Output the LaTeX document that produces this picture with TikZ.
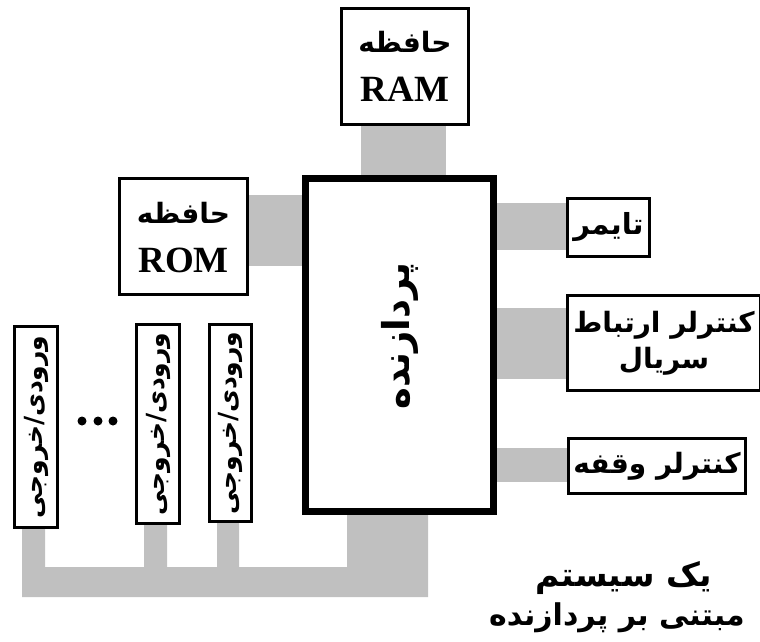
\documentclass[tikz,border=0pt]{standalone}
\usepackage{fontspec}
\setmainfont{Liberation Serif}
\newfontfamily\farsi[Script=Arabic]{DejaVu Sans}
\TeXXeTstate=1
\usetikzlibrary{backgrounds}
\newcommand{\fa}[1]{{\farsi\bfseries\beginR #1\endR}}
\definecolor{bandgray}{HTML}{C0C0C0}
\tikzset{
  box/.style={draw=black, line width=3pt, fill=white, inner sep=0pt, align=center},
  procbox/.style={draw=black, line width=7pt, fill=white, inner sep=0pt},
  band/.style={draw=bandgray, line cap=butt},
  txt/.style={inner sep=0pt, align=center},
}
\begin{document}
\begin{tikzpicture}[x=1pt, y=-1pt]
\useasboundingbox (0,0) rectangle (760,641);
% nodes
\node[box, minimum width=127pt, minimum height=116pt] (ram) at (405,66.5) {};
\node[txt, font=\fontsize{28}{30}\selectfont] (ramt1) at (405,42) {\fa{حافظه}};
\node[txt, font=\fontsize{37}{40}\selectfont\bfseries] (ramt2) at (405,89) {RAM};
\node[box, minimum width=128pt, minimum height=116pt] (rom) at (183.5,236.5) {};
\node[txt, font=\fontsize{28}{30}\selectfont] (romt1) at (183.5,213) {\fa{حافظه}};
\node[txt, font=\fontsize{37}{40}\selectfont\bfseries] (romt2) at (183.5,260) {ROM};
\node[procbox, minimum width=188pt, minimum height=333pt] (proc) at (399.5,345) {};
\node[txt, rotate=90, font=\fontsize{37}{40}\selectfont] (proct) at (399.5,336) {\fa{پردازنده}};
\node[box, minimum width=82pt, minimum height=58pt, font=\fontsize{29}{30}\selectfont] (timer) at (608.5,227.5) {\fa{تایمر}};
\node[box, minimum width=193pt, minimum height=95pt, font=\fontsize{28}{36}\selectfont] (serial) at (664,343)
  {\fa{کنترلر ارتباط}\\\fa{سریال}};
\node[box, minimum width=177pt, minimum height=55pt, font=\fontsize{28}{30}\selectfont] (intr) at (657,466) {\fa{کنترلر وقفه}};
\node[box, minimum width=43pt, minimum height=201pt] (io1) at (36,427) {};
\node[box, minimum width=43pt, minimum height=199pt] (io2) at (158,424) {};
\node[box, minimum width=42pt, minimum height=197pt] (io3) at (230.5,423) {};
\node[txt, rotate=90, font=\fontsize{25}{27}\selectfont] (io1t) at (io1.center) {\fa{ورودی/خروجی}};
\node[txt, rotate=90, font=\fontsize{25}{27}\selectfont] (io2t) at (io2.center) {\fa{ورودی/خروجی}};
\node[txt, rotate=90, font=\fontsize{25}{27}\selectfont] (io3t) at (io3.center) {\fa{ورودی/خروجی}};
\fill (82,421) circle (4.5) (98,421) circle (4.5) (113,421) circle (4.5);
\node[txt, font=\fontsize{33}{36}\selectfont] (title1) at (624,578) {\fa{یک سیستم}};
\node[txt, font=\fontsize{30}{32}\selectfont] (title2) at (617,618) {\fa{مبتنی بر پردازنده}};
% bands
\begin{scope}[on background layer]
\draw[band, line width=85pt] ([xshift=-1.5pt]ram.south) -- ([xshift=-1.5pt]ram.south |- proc.north);
\draw[band, line width=71pt] ([yshift=6pt]rom.east) -- ([yshift=6pt]rom.east -| proc.west);
\draw[band, line width=47pt] ([yshift=1pt]timer.west) -- ([yshift=1pt]timer.west -| proc.east);
\draw[band, line width=71pt] (serial.west) -- (serial.west -| proc.east);
\draw[band, line width=34pt] ([yshift=1pt]intr.west) -- ([yshift=1pt]intr.west -| proc.east);
\fill[bandgray] (22,529) -- (22,597) -- (428,597) -- (428,515) -- (347,515) -- (347,567)
  -- (239,567) -- (239,523) -- (217,523) -- (217,567) -- (167,567) -- (167,525)
  -- (144,525) -- (144,567) -- (45,567) -- (45,529) -- cycle;
\end{scope}
\end{tikzpicture}
\end{document}
